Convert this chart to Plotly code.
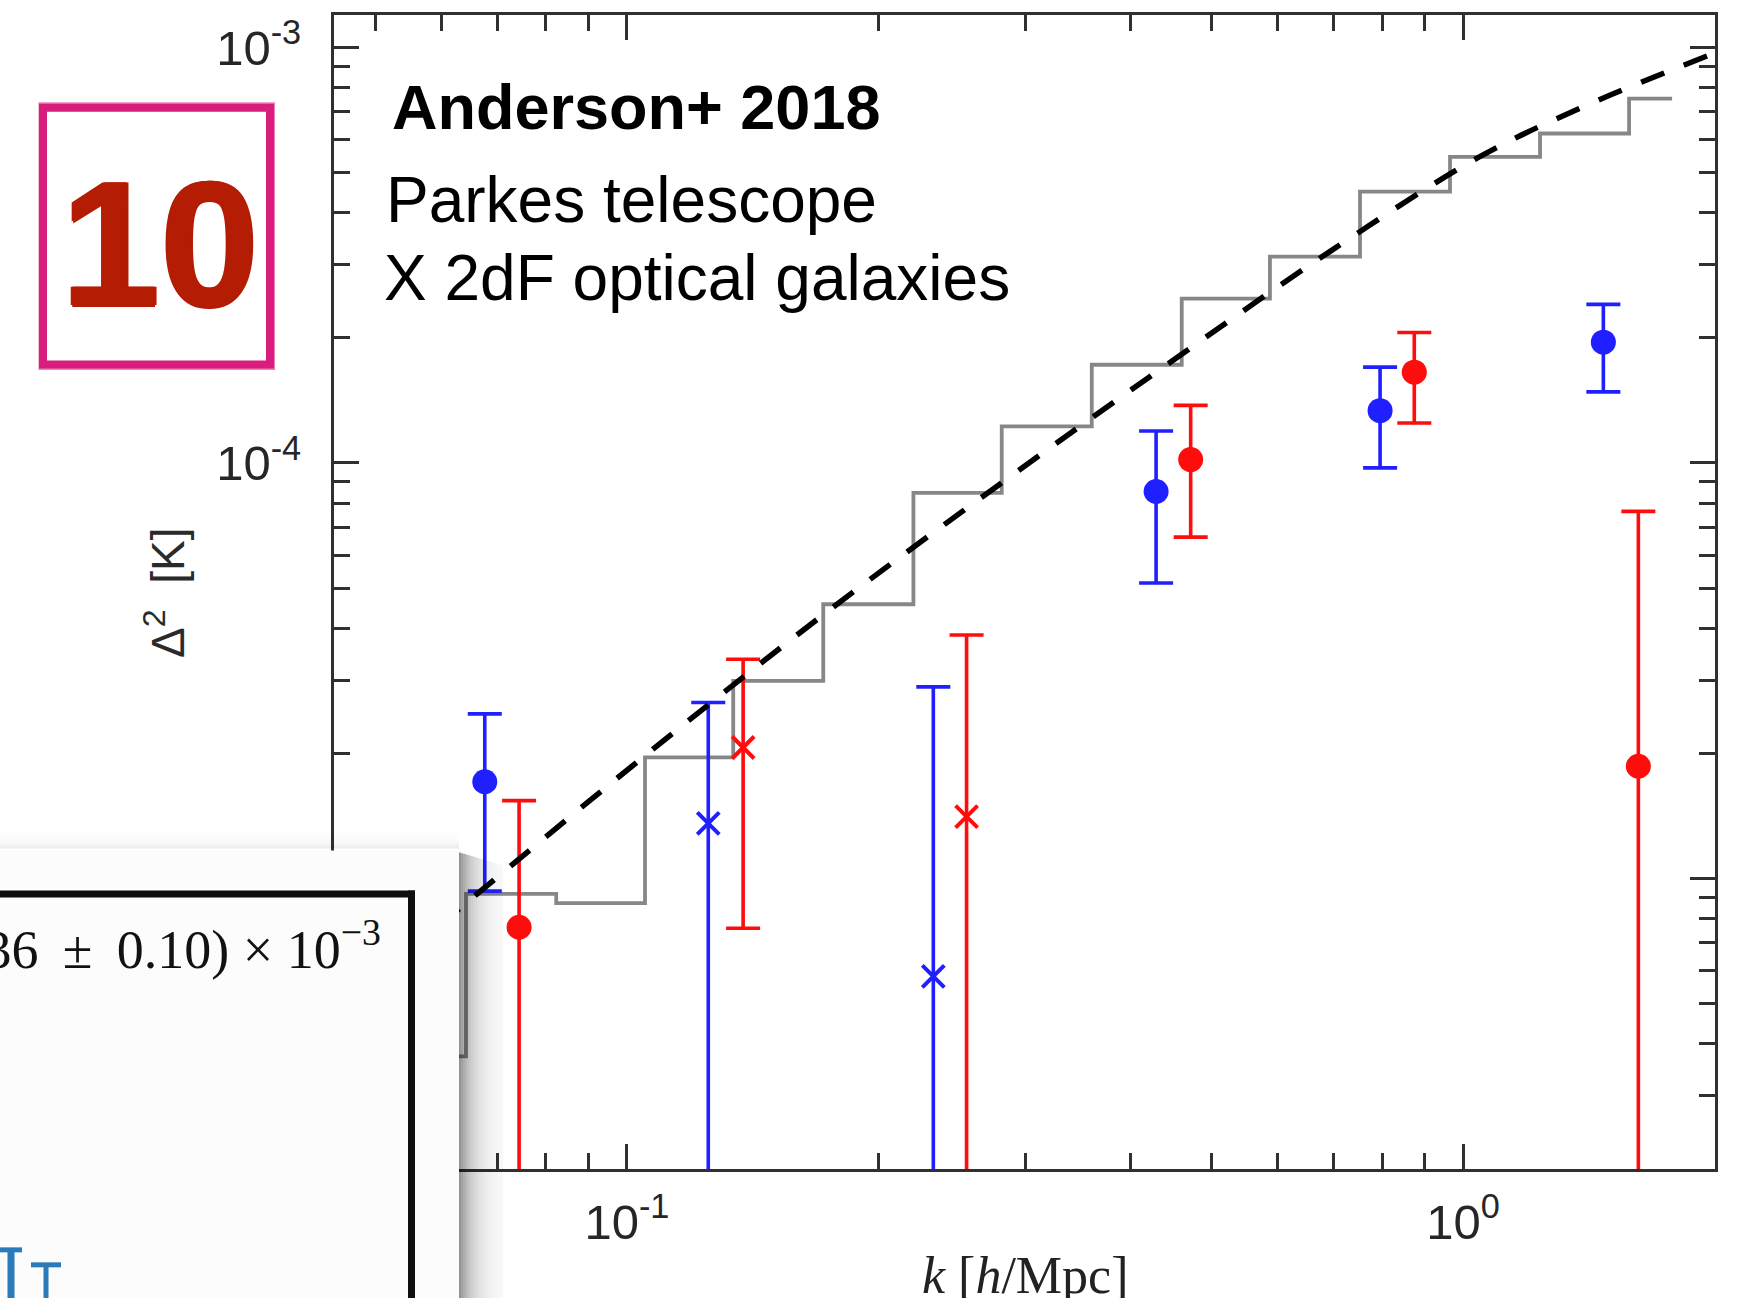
import math
import plotly.graph_objects as go

# ---------------- data: Parkes x 2dF cross-power, k [h/Mpc] vs Delta^2 [K] ----------------
# filled circles (blue / red) with upper and lower error bounds
blue_dot_k = [0.0676, 0.4294, 0.7957, 1.4716]
blue_dot_d = [1.709e-5, 8.536e-5, 1.336e-4, 1.953e-4]
blue_dot_hi = [2.489e-5, 1.194e-4, 1.701e-4, 2.408e-4]
blue_dot_lo = [9.32e-6, 5.14e-5, 9.73e-5, 1.483e-4]

red_dot_k = [0.0743, 0.4723, 0.8743, 1.6205]
red_dot_d = [7.63e-6, 1.019e-4, 1.654e-4, 1.862e-5]
red_dot_hi = [1.539e-5, 1.376e-4, 2.061e-4, 7.646e-5]
red_dot_lo = [None, 6.63e-5, 1.248e-4, None]   # None: bound consistent with zero

# crosses (negative-valued bins, plotted as |value|)
blue_x_k = [0.1251, 0.2325]
blue_x_d = [1.357e-5, 5.81e-6]
blue_x_hi = [2.651e-5, 2.891e-5]
blue_x_lo = [None, None]

red_x_k = [0.1377, 0.2548]
red_x_d = [2.066e-5, 1.408e-5]
red_x_hi = [3.370e-5, 3.855e-5]
red_x_lo = [7.59e-6, None]

# binned noise level (grey staircase): bin edges and level per bin
step_edges = [0.0500, 0.0642, 0.0823, 0.1051, 0.1340, 0.1717, 0.2201, 0.2807,
              0.3597, 0.4608, 0.5875, 0.7529, 0.9647, 1.2361, 1.5796, 1.7783]
step_level = [3.73e-6, 9.18e-6, 8.72e-6, 1.955e-5, 2.99e-5, 4.57e-5, 8.47e-5,
              1.225e-4, 1.723e-4, 2.487e-4, 3.137e-4, 4.496e-4, 5.456e-4,
              6.207e-4, 7.534e-4]

# model curve (dashed)
model_k = [0.0447, 0.0646, 0.105, 0.174, 0.282, 0.447, 0.692, 1.047, 1.41, 2.0]
model_d = [4.71e-6, 8.81e-6, 1.972e-5, 4.40e-5, 9.02e-5, 1.750e-4, 3.221e-4,
           5.458e-4, 7.278e-4, 9.696e-4]

x_tick_vals = [0.1, 1.0]
x_tick_text = ["10<sup>-1</sup>", "10<sup>0</sup>"]
y_tick_vals = [1e-5, 1e-4, 1e-3]
y_tick_text = ["10<sup>-5</sup>", "10<sup>-4</sup>", "10<sup>-3</sup>"]

# ---------------- page geometry ----------------
W, H = 1742, 1298
L, R, T, B = 334, 1715, 13, 1169

BLUE = "#1f1fff"
RED = "#ff0d0d"
AX = "#303030"


def xp(px):
    return (px - L) / (R - L)


def yp(py):
    return (B - py) / (B - T)


def err(d, hi, lo):
    plus = [h - v for v, h in zip(d, hi)]
    minus = [(v - l) if l is not None else v * (1 - 1e-4) for v, l in zip(d, lo)]
    return plus, minus


fig = go.Figure()

# grey staircase
fig.add_trace(go.Scatter(
    x=step_edges, y=step_level + [step_level[-1]], mode="lines",
    line=dict(color="#878787", width=3.8, shape="hv"), showlegend=False))


def points(k, d, hi, lo, color, symbol):
    plus, minus = err(d, hi, lo)
    if symbol == "circle":
        marker = dict(symbol="circle", size=25, color=color)
    else:
        marker = dict(symbol="x-thin", size=22, color=color,
                      line=dict(width=4, color=color))
    fig.add_trace(go.Scatter(
        x=k, y=d, mode="markers", marker=marker, showlegend=False,
        error_y=dict(type="data", symmetric=False, array=plus, arrayminus=minus,
                     color=color, thickness=3.6, width=17)))


points(blue_dot_k, blue_dot_d, blue_dot_hi, blue_dot_lo, BLUE, "circle")
points(red_dot_k, red_dot_d, red_dot_hi, red_dot_lo, RED, "circle")
points(blue_x_k, blue_x_d, blue_x_hi, blue_x_lo, BLUE, "x")
points(red_x_k, red_x_d, red_x_hi, red_x_lo, RED, "x")

# dashed model
fig.add_trace(go.Scatter(
    x=model_k, y=model_d, mode="lines",
    line=dict(color="black", width=5.5, dash="25px,21px", shape="spline"),
    showlegend=False))

x_minor = [0.05, 0.06, 0.07, 0.08, 0.09, 0.2, 0.3, 0.4, 0.5, 0.6, 0.7, 0.8, 0.9]
y_minor = [m * 10 ** e for e in (-6, -5, -4) for m in range(2, 10)
           if 2.01e-6 < m * 10 ** e < 1.2e-3]

axis_common = dict(
    type="log", showline=True, linecolor=AX, linewidth=3, mirror="ticks",
    ticks="inside", ticklen=25, tickwidth=2.5, tickcolor=AX,
    showgrid=False, zeroline=False,
    tickfont=dict(family="Liberation Sans", size=49, color="#262626"),
)

fig.update_layout(
    width=W, height=H,
    margin=dict(l=L, r=W - R, t=T, b=H - B),
    paper_bgcolor="white", plot_bgcolor="white",
    xaxis=dict(**axis_common,
               range=[math.log10(0.04463), math.log10(2.0013)],
               tickvals=x_tick_vals, ticktext=x_tick_text,
               ticklabelstandoff=8,
               minor=dict(ticks="inside", ticklen=16, tickwidth=2.5,
                          tickcolor=AX, tickvals=x_minor, showgrid=False)),
    yaxis=dict(**axis_common,
               range=[math.log10(1.9985e-6), math.log10(1.197e-3)],
               tickvals=y_tick_vals, ticktext=y_tick_text,
               ticklabelstandoff=20,
               minor=dict(ticks="inside", ticklen=16, tickwidth=2.5,
                          tickcolor=AX, tickvals=y_minor, showgrid=False)),
)

shapes = []
annots = []


def rect(x0, y0, x1, y1, **kw):
    shapes.append(dict(type="rect", xref="paper", yref="paper", layer="above",
                       x0=xp(x0), x1=xp(x1), y0=yp(y1), y1=yp(y0), **kw))


def seg(x0, y0, x1, y1, color, width):
    shapes.append(dict(type="line", xref="paper", yref="paper", layer="above",
                       x0=xp(x0), x1=xp(x1), y0=yp(y0), y1=yp(y1),
                       line=dict(color=color, width=width)))


def text(x, y, s, size, family="Liberation Sans", color="black",
         xanchor="left", angle=0, **kw):
    annots.append(dict(xref="paper", yref="paper", x=xp(x), y=yp(y), text=s,
                       showarrow=False, xanchor=xanchor, yanchor="middle",
                       textangle=angle,
                       font=dict(family=family, size=size, color=color, **kw)))


# axis titles
text(1025, 1276, "<i>k</i> [<i>h</i>/Mpc]", 52, family="Liberation Serif",
     color="#222", xanchor="center")
text(165, 592, "\u0394<sup>2</sup>\u00a0\u00a0[K]", 46, color="#2a2a2a",
     xanchor="center", angle=-90)

# in-plot labels
text(390, 105, "<b>Anderson+ 2018</b>", 63)
text(384, 198, "Parkes telescope", 64)
text(382, 276, "X 2dF optical galaxies", 64)

# numbered badge
rect(43, 106, 270, 363, line=dict(color="#d81d7d", width=8), fillcolor="rgba(0,0,0,0)")
rect(39.5, 101.5, 274, 367.5, line=dict(color="rgba(216,29,125,0.55)", width=2),
     fillcolor="rgba(0,0,0,0)")
text(160, 242, "<b>10</b>", 178, family="Liberation Sans Narrow, Liberation Sans",
     color="#b51c04", xanchor="center",
     shadow="1.5px 0 0 #b51c04, -1.5px 0 0 #b51c04, 0 1.5px 0 #b51c04")

# pasted panel in the lower-left corner with its drop shadow
for i in range(10):
    a = 0.07 * math.exp(-i / 3.0)
    rect(-5, 848 - 2 * (i + 1), 459, 848 - 2 * i, line=dict(width=0),
         fillcolor=f"rgba(0,0,0,{a:.4f})")
for i in range(22):
    a = 0.42 * math.exp(-i / 7.5)
    rect(459 + 2 * i, 852 + i * 0.6, 461 + 2 * i, H + 5, line=dict(width=0),
         fillcolor=f"rgba(0,0,0,{a:.4f})")
rect(-5, 850, 459, H + 5, line=dict(width=0), fillcolor="#fcfcfc")
seg(-5, 893.5, 415, 893.5, "#0f0f0f", 7)
seg(411.5, 890, 411.5, H + 5, "#0f0f0f", 7)
text(383, 945,
     "(1.36\u2009 \u00b1 \u20090.10) \u00d7 10<sup>\u22123</sup>", 54,
     family="Liberation Serif", color="#111", xanchor="right")
seg(0, 1250, 22, 1250, "#2b7bba", 5)
seg(11, 1250, 11, H + 5, "#2b7bba", 7)
seg(31, 1265, 61, 1265, "#2b7bba", 5)
seg(46, 1265, 46, H + 5, "#2b7bba", 5)

fig.update_layout(shapes=shapes, annotations=annots)
fig.write_html("out.html")
